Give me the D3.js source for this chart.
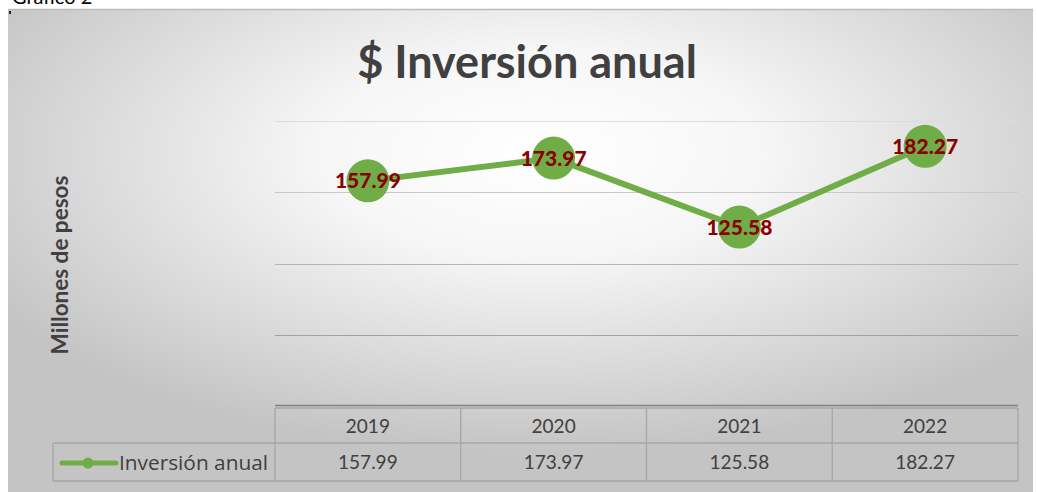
<!DOCTYPE html>
<html><head><meta charset="utf-8">
<script src="https://cdn.jsdelivr.net/npm/d3@7"></script>
<style>
html,body{margin:0;padding:0;background:#fff;}
svg{display:block;font-family:Lato,"Open Sans",sans-serif;}
</style></head>
<body>
<svg id="chart" width="1037" height="492"></svg>
<script>
const categories = ["2019", "2020", "2021", "2022"];
const seriesName = "Inversión anual";
const values = [157.99, 173.97, 125.58, 182.27];
const yTicks = [0, 50, 100, 150, 200];
const title = "$ Inversión anual";
const yTitle = "Millones de pesos";
const caption = "Gráfico 2";

const svg = d3.select("#chart");
const W = 1037, H = 492;
const green = "#70ad47", labelColor = "#8b0000";

// background
const defs = svg.append("defs");
const rg = defs.append("radialGradient").attr("id","bg")
  .attr("cx","52%").attr("cy","30%").attr("r","62%");
rg.append("stop").attr("offset","0%").attr("stop-color","#ffffff");
rg.append("stop").attr("offset","35%").attr("stop-color","#f6f6f6");
rg.append("stop").attr("offset","100%").attr("stop-color","#c4c4c4");

svg.append("text").attr("x",12).attr("y",4).attr("font-size",20)
  .attr("fill","#000").text(caption);

svg.append("rect").attr("x",8).attr("y",9).attr("width",1025).attr("height",H-9)
  .attr("fill","url(#bg)");
svg.append("line").attr("x1",8).attr("x2",1033).attr("y1",9.5).attr("y2",9.5)
  .attr("stroke","#bcbcbc").attr("stroke-width",1.5);
svg.append("rect").attr("x",9).attr("y",11).attr("width",2).attr("height",3).attr("fill","#222");

const plotL = 275, plotR = 1018, plotT = 121, plotB = 406;
const x = d3.scaleBand().domain(categories).range([plotL, plotR]);
const y = d3.scaleLinear().domain([0, 200]).range([plotB, plotT]);

// gridlines
const gridColor = d3.scaleLinear().domain([50, 200]).range(["#a2a2a2", "#dcdcdc"]);
svg.append("g").selectAll("line").data(yTicks.filter(t => t > 0)).join("line")
  .attr("x1", plotL).attr("x2", plotR)
  .attr("y1", d => Math.round(y(d)) + 0.5).attr("y2", d => Math.round(y(d)) + 0.5)
  .attr("stroke", d => gridColor(d)).attr("stroke-width", 1.2);

// axis line
svg.append("line").attr("x1", plotL).attr("x2", plotR)
  .attr("y1", y(0) - 0.5).attr("y2", y(0) - 0.5).attr("stroke", "#808080").attr("stroke-width", 1.5);

// data table
const tableTop = 408, rowMid = 443, tableBot = 481, legendL = 53;
const tcol = "#a6a6a6";
const tg = svg.append("g").attr("stroke", tcol).attr("stroke-width", 1.3).attr("fill","none");
tg.append("line").attr("x1", plotL).attr("x2", plotR).attr("y1", tableTop).attr("y2", tableTop);
tg.append("line").attr("x1", legendL).attr("x2", plotR).attr("y1", rowMid).attr("y2", rowMid);
tg.append("line").attr("x1", legendL).attr("x2", plotR).attr("y1", tableBot).attr("y2", tableBot);
tg.append("line").attr("x1", legendL).attr("x2", legendL).attr("y1", rowMid).attr("y2", tableBot);
const bounds = categories.map(c => x(c)).concat([plotR]);
tg.selectAll("line.v").data(bounds).join("line").attr("class","v")
  .attr("x1", d => d).attr("x2", d => d).attr("y1", tableTop).attr("y2", tableBot);

svg.append("g").selectAll("text").data(categories).join("text")
  .attr("x", d => x(d) + x.bandwidth()/2).attr("y", (tableTop + rowMid)/2 + 7)
  .attr("text-anchor","middle").attr("font-size",19).attr("fill","#404040").text(d => d);
svg.append("g").selectAll("text").data(values).join("text")
  .attr("x", (d,i) => x(categories[i]) + x.bandwidth()/2).attr("y", (rowMid + tableBot)/2 + 7)
  .attr("text-anchor","middle").attr("font-size",19).attr("fill","#404040").text(d => d.toFixed(2));

// legend key
const ly = (rowMid + tableBot)/2 + 1;
svg.append("line").attr("x1", 62).attr("x2", 116).attr("y1", ly).attr("y2", ly)
  .attr("stroke", green).attr("stroke-width", 5).attr("stroke-linecap","round");
svg.append("circle").attr("cx", 88).attr("cy", ly).attr("r", 5.5).attr("fill", green);
svg.append("text").attr("x", 119).attr("y", ly + 7).attr("font-size",20)
  .attr("font-family","'Open Sans',sans-serif").attr("fill","#404040")
  .attr("textLength",149).attr("lengthAdjust","spacingAndGlyphs").text(seriesName);

// line
const pts = values.map((v,i) => [x(categories[i]) + x.bandwidth()/2, y(v)]);
svg.append("path").attr("d", d3.line()(pts)).attr("fill","none")
  .attr("stroke", green).attr("stroke-width", 6).attr("stroke-linejoin","round");
svg.append("g").selectAll("circle").data(pts).join("circle")
  .attr("cx", d => d[0]).attr("cy", d => d[1]).attr("r", 21.5).attr("fill", green);
svg.append("g").selectAll("text").data(values).join("text")
  .attr("x", (d,i) => pts[i][0]).attr("y", (d,i) => pts[i][1] + 7.5)
  .attr("text-anchor","middle").attr("font-size",21).attr("font-weight","900")
  .attr("fill", labelColor).text(d => d.toFixed(2));

// titles
svg.append("text").attr("x", 527).attr("y", 78).attr("text-anchor","middle")
  .attr("font-size",45).attr("font-weight","bold").attr("fill","#404040").text(title);
svg.append("text").attr("transform","translate(68,265) rotate(-90)").attr("text-anchor","middle")
  .attr("font-size",22.5).attr("font-weight","bold").attr("fill","#404040").text(yTitle);
</script>
</body></html>
